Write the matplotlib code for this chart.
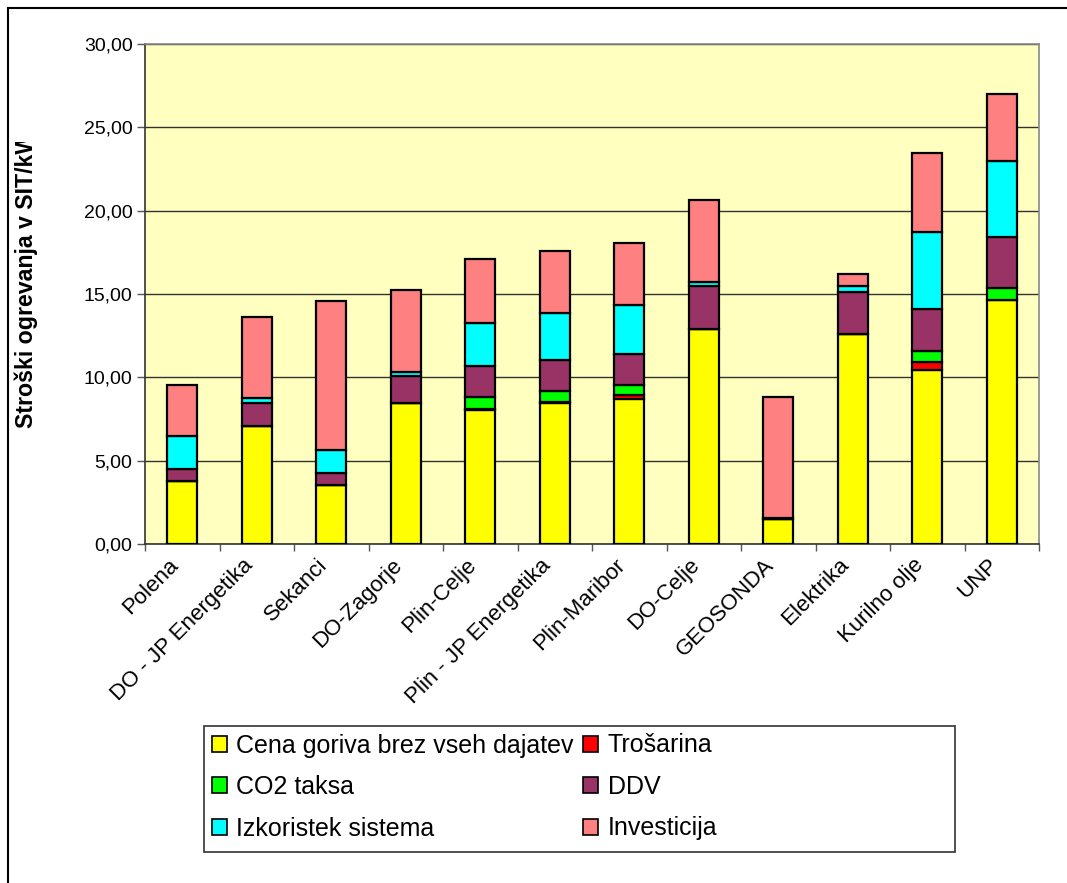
import matplotlib
matplotlib.use("Agg")
import matplotlib.pyplot as plt
from matplotlib.lines import Line2D
from matplotlib.patches import Patch, Rectangle
from matplotlib.transforms import Bbox, ScaledTranslation
import numpy as np

plt.rcParams['font.family'] = ['Liberation Sans', 'DejaVu Sans']

categories = ["Polena", "DO - JP Energetika", "Sekanci", "DO-Zagorje", "Plin-Celje",
              "Plin - JP Energetika", "Plin-Maribor", "DO-Celje", "GEOSONDA",
              "Elektrika", "Kurilno olje", "UNP"]

cena = [3.80, 7.06, 3.56, 8.48, 8.05, 8.45, 8.70, 12.92, 1.48, 12.58, 10.44, 14.64]
trosarina = [0.00, 0.00, 0.00, 0.00, 0.08, 0.08, 0.24, 0.00, 0.00, 0.00, 0.50, 0.00]
co2_taksa = [0.00, 0.00, 0.00, 0.00, 0.71, 0.65, 0.60, 0.00, 0.00, 0.00, 0.66, 0.70]
ddv = [0.70, 1.42, 0.70, 1.60, 1.84, 1.88, 1.86, 2.58, 0.10, 2.56, 2.50, 3.06]
izkoristek = [1.98, 0.26, 1.40, 0.22, 2.58, 2.82, 2.94, 0.20, 0.00, 0.36, 4.64, 4.58]
investicija = [3.04, 4.90, 8.90, 4.96, 3.86, 3.72, 3.72, 4.94, 7.26, 0.72, 4.72, 4.02]

series_names = ["Cena goriva brez vseh dajatev", "Trošarina", "CO2 taksa", "DDV",
                "Izkoristek sistema", "Investicija"]
series_values = [cena, trosarina, co2_taksa, ddv, izkoristek, investicija]
series_colors = ["#FFFF00", "#FF0000", "#00FF00", "#993366", "#00FFFF", "#FF8080"]

W, H = 1067, 883
fig = plt.figure(figsize=(W / 100, H / 100), dpi=100)
fig.patch.set_facecolor("white")

# plot area in pixel coordinates
x0, x1, y_top, y_bot = 145, 1039, 44, 544
ax = fig.add_axes([x0 / W, (H - y_bot) / H, (x1 - x0) / W, (y_bot - y_top) / H])
ax.set_facecolor("#FFFFC0")

x = np.arange(len(categories))
bottom = np.zeros(len(categories))
for name, vals, col in zip(series_names, series_values, series_colors):
    vals = np.array(vals)
    ax.bar(x, vals, width=0.40, bottom=bottom, color=col, edgecolor="black",
           linewidth=1.6, label=name, zorder=3)
    bottom += vals

ax.set_xlim(-0.5, len(categories) - 0.5)
ax.set_ylim(0, 30)
yt = np.arange(0, 31, 5)
ax.set_yticks(yt)
ax.set_yticklabels([f"{v:.2f}".replace(".", ",") for v in yt], fontsize=14)
ax.yaxis.grid(True, color="#333333", linewidth=1.0, zorder=1)
ax.set_axisbelow(True)

ax.set_xticks(x)
ax.set_xticklabels(categories, rotation=45, ha="right", va="center",
                   rotation_mode="anchor", fontsize=16)
ax.tick_params(axis="x", length=0, pad=13)
shift = ScaledTranslation(-7 / 100, 0, fig.dpi_scale_trans)
for lbl in ax.get_xticklabels():
    lbl.set_transform(lbl.get_transform() + shift)
ax.set_xticks(np.arange(-0.5, len(categories), 1.0), minor=True)
ax.tick_params(axis="x", which="minor", length=5, width=1, color="#555555")
ax.tick_params(axis="y", length=6, width=1, color="#555555", pad=3)

for s in ("left", "bottom"):
    ax.spines[s].set_color("#333333")
    ax.spines[s].set_linewidth(1.2)
for s in ("top", "right"):
    ax.spines[s].set_color("#888888")
    ax.spines[s].set_linewidth(1.2)

# y-axis title, clipped at the top
ylab = fig.text(26 / W, (H - 428) / H, "Stroški ogrevanja v SIT/kW", rotation=90,
                ha="center", va="bottom", fontsize=16.7, fontweight="bold")
ylab.set_clip_box(Bbox.from_extents(0, H - 440, 60, H - 142))
ylab.set_clip_on(True)

# legend frame and entries, filled row by row
fig.add_artist(Rectangle((204 / W, (H - 852) / H), (955 - 204) / W, (852 - 726) / H,
                         transform=fig.transFigure, facecolor="white",
                         edgecolor="#333333", linewidth=1.2, zorder=2))
handles = [Patch(facecolor=c, edgecolor="black", linewidth=1.2) for c in series_colors]
order = [0, 2, 4, 1, 3, 5]
leg = fig.legend([handles[i] for i in order], [series_names[i] for i in order],
                 ncol=2, loc="upper left", bbox_to_anchor=(204 / W, (H - 726) / H),
                 fontsize=18, frameon=False,
                 handlelength=0.6, handleheight=0.6, handletextpad=0.4,
                 columnspacing=0.35, labelspacing=0.7, borderpad=0.3,
                 borderaxespad=0)
leg.set_zorder(3)

# outer chart border (left and top)
fig.add_artist(Line2D([8 / W, 8 / W], [0, (H - 8) / H], color="black", linewidth=1.5,
                      transform=fig.transFigure))
fig.add_artist(Line2D([8 / W, 1], [(H - 8) / H, (H - 8) / H], color="black",
                      linewidth=1.5, transform=fig.transFigure))

fig.savefig("out.png", dpi=100)
